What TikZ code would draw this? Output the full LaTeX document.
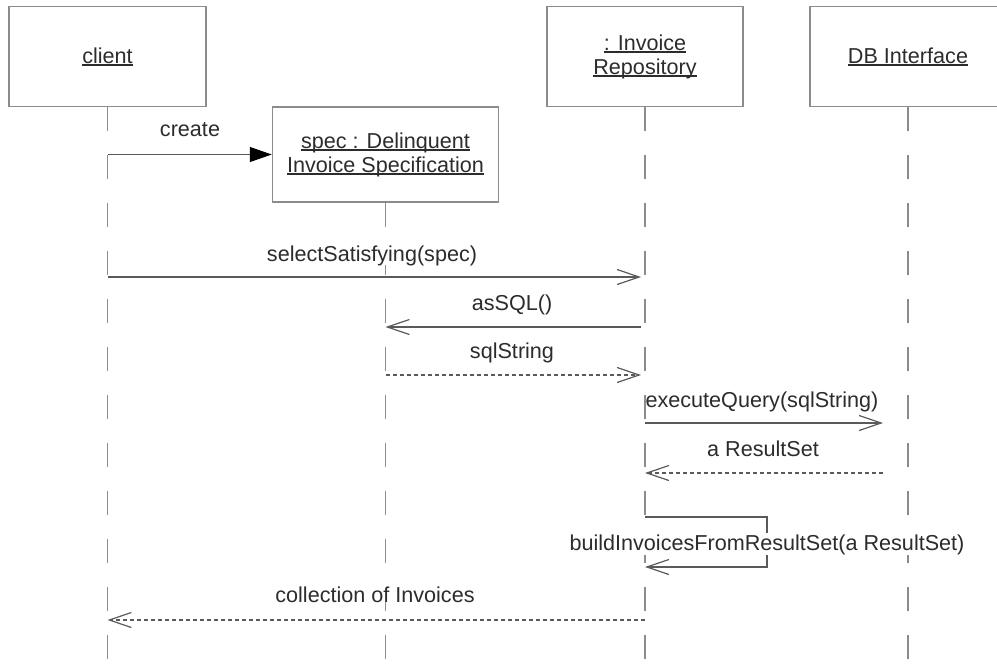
\documentclass[tikz,border=0pt]{standalone}
\usepackage{fontspec}
\setmainfont{Liberation Sans}
\usetikzlibrary{arrows.meta}
\definecolor{txt}{HTML}{2C2C2C}
\definecolor{boxc}{HTML}{8C8C8C}
\definecolor{linec}{HTML}{5A5A5A}
\newcommand\myul[1]{\setbox0\hbox{#1}\rlap{\rule[-2.5pt]{\wd0}{1.1pt}}\box0}
\begin{document}
\begin{tikzpicture}[x=1pt,y=-1pt,
  font=\fontsize{21.6}{24}\selectfont,
  obj/.style={draw=boxc,line width=1.5pt,align=center,text=txt,inner sep=0pt},
  life/.style={draw=boxc,line width=1.3pt,dash pattern=on 24pt off 24pt},
  msg/.style={draw=linec,line width=1.2pt,-{Straight Barb[length=22pt,width=15pt]}},
  ret/.style={msg,dash pattern=on 4pt off 3pt},
  lbl/.style={text=txt,anchor=base,inner sep=0pt,fill=white}]
\useasboundingbox (0,0) rectangle (997,665);
\clip (0,0) rectangle (997,665);
% objects
\node[obj,minimum width=197pt,minimum height=100pt] (client) at (107.5,56.5) {\myul{client}};
\node[obj,minimum width=226pt,minimum height=95pt] (spec) at (385.5,154.5) {\myul{spec : Delinquent}\\\myul{Invoice Specification}};
\node[obj,minimum width=196pt,minimum height=100pt] (repo) at (645,56.5) {\myul{: Invoice}\\\myul{Repository}};
\node[obj,minimum width=196pt,minimum height=100pt] (db) at (908,56.5) {\myul{DB Interface}};
% levels
\coordinate (bottom) at (0,668);
\coordinate (m1) at (0,277);
\coordinate (m2) at (0,327);
\coordinate (m3) at (0,375);
\coordinate (m4) at (0,423);
\coordinate (m5) at (0,473);
\coordinate (selfR) at (767,517);
\coordinate (m7) at (0,567);
\coordinate (m8) at (0,620);
% lifelines
\draw[life] (client.south) -- (client.south |- bottom);
\draw[life] (spec.south) -- (spec.south |- bottom);
\draw[life] (repo.south) -- (repo.south |- bottom);
\draw[life] (db.south) -- (db.south |- bottom);
% messages
\draw[draw=linec,line width=1.2pt,-{Triangle[length=22pt,width=15pt,color=black]}] (client |- spec.west) -- (spec.west);
\draw[msg,shorten >=4pt] (client |- m1) -- (repo |- m1);
\draw[msg,shorten <=4pt] (repo |- m2) -- (spec |- m2);
\draw[ret,shorten >=4pt] (spec |- m3) -- (repo |- m3);
\draw[msg,shorten >=25pt] (repo |- m4) -- (db |- m4);
\draw[ret,shorten <=25pt] (db |- m5) -- (repo |- m5);
\draw[msg] (repo |- selfR) -- (selfR) -- (selfR |- m7) -- (repo |- m7);
\draw[ret] (repo |- m8) -- (client |- m8);
% labels
\node[lbl] (lcreate) at (190,136) {create};
\node[lbl] (lsel) at (372,261) {selectSatisfying(spec)};
\node[lbl] (lsql) at (512,310) {asSQL()};
\node[lbl] (lstr) at (512,358) {sqlString};
\node[lbl] (lexe) at (762,407) {executeQuery(sqlString)};
\node[lbl] (lres) at (763,456) {a ResultSet};
\node[lbl,inner sep=1pt] (lbuild) at (767,550) {buildInvoicesFromResultSet(a ResultSet)};
\node[lbl] (lcol) at (375,602) {collection of Invoices};
\end{tikzpicture}
\end{document}
